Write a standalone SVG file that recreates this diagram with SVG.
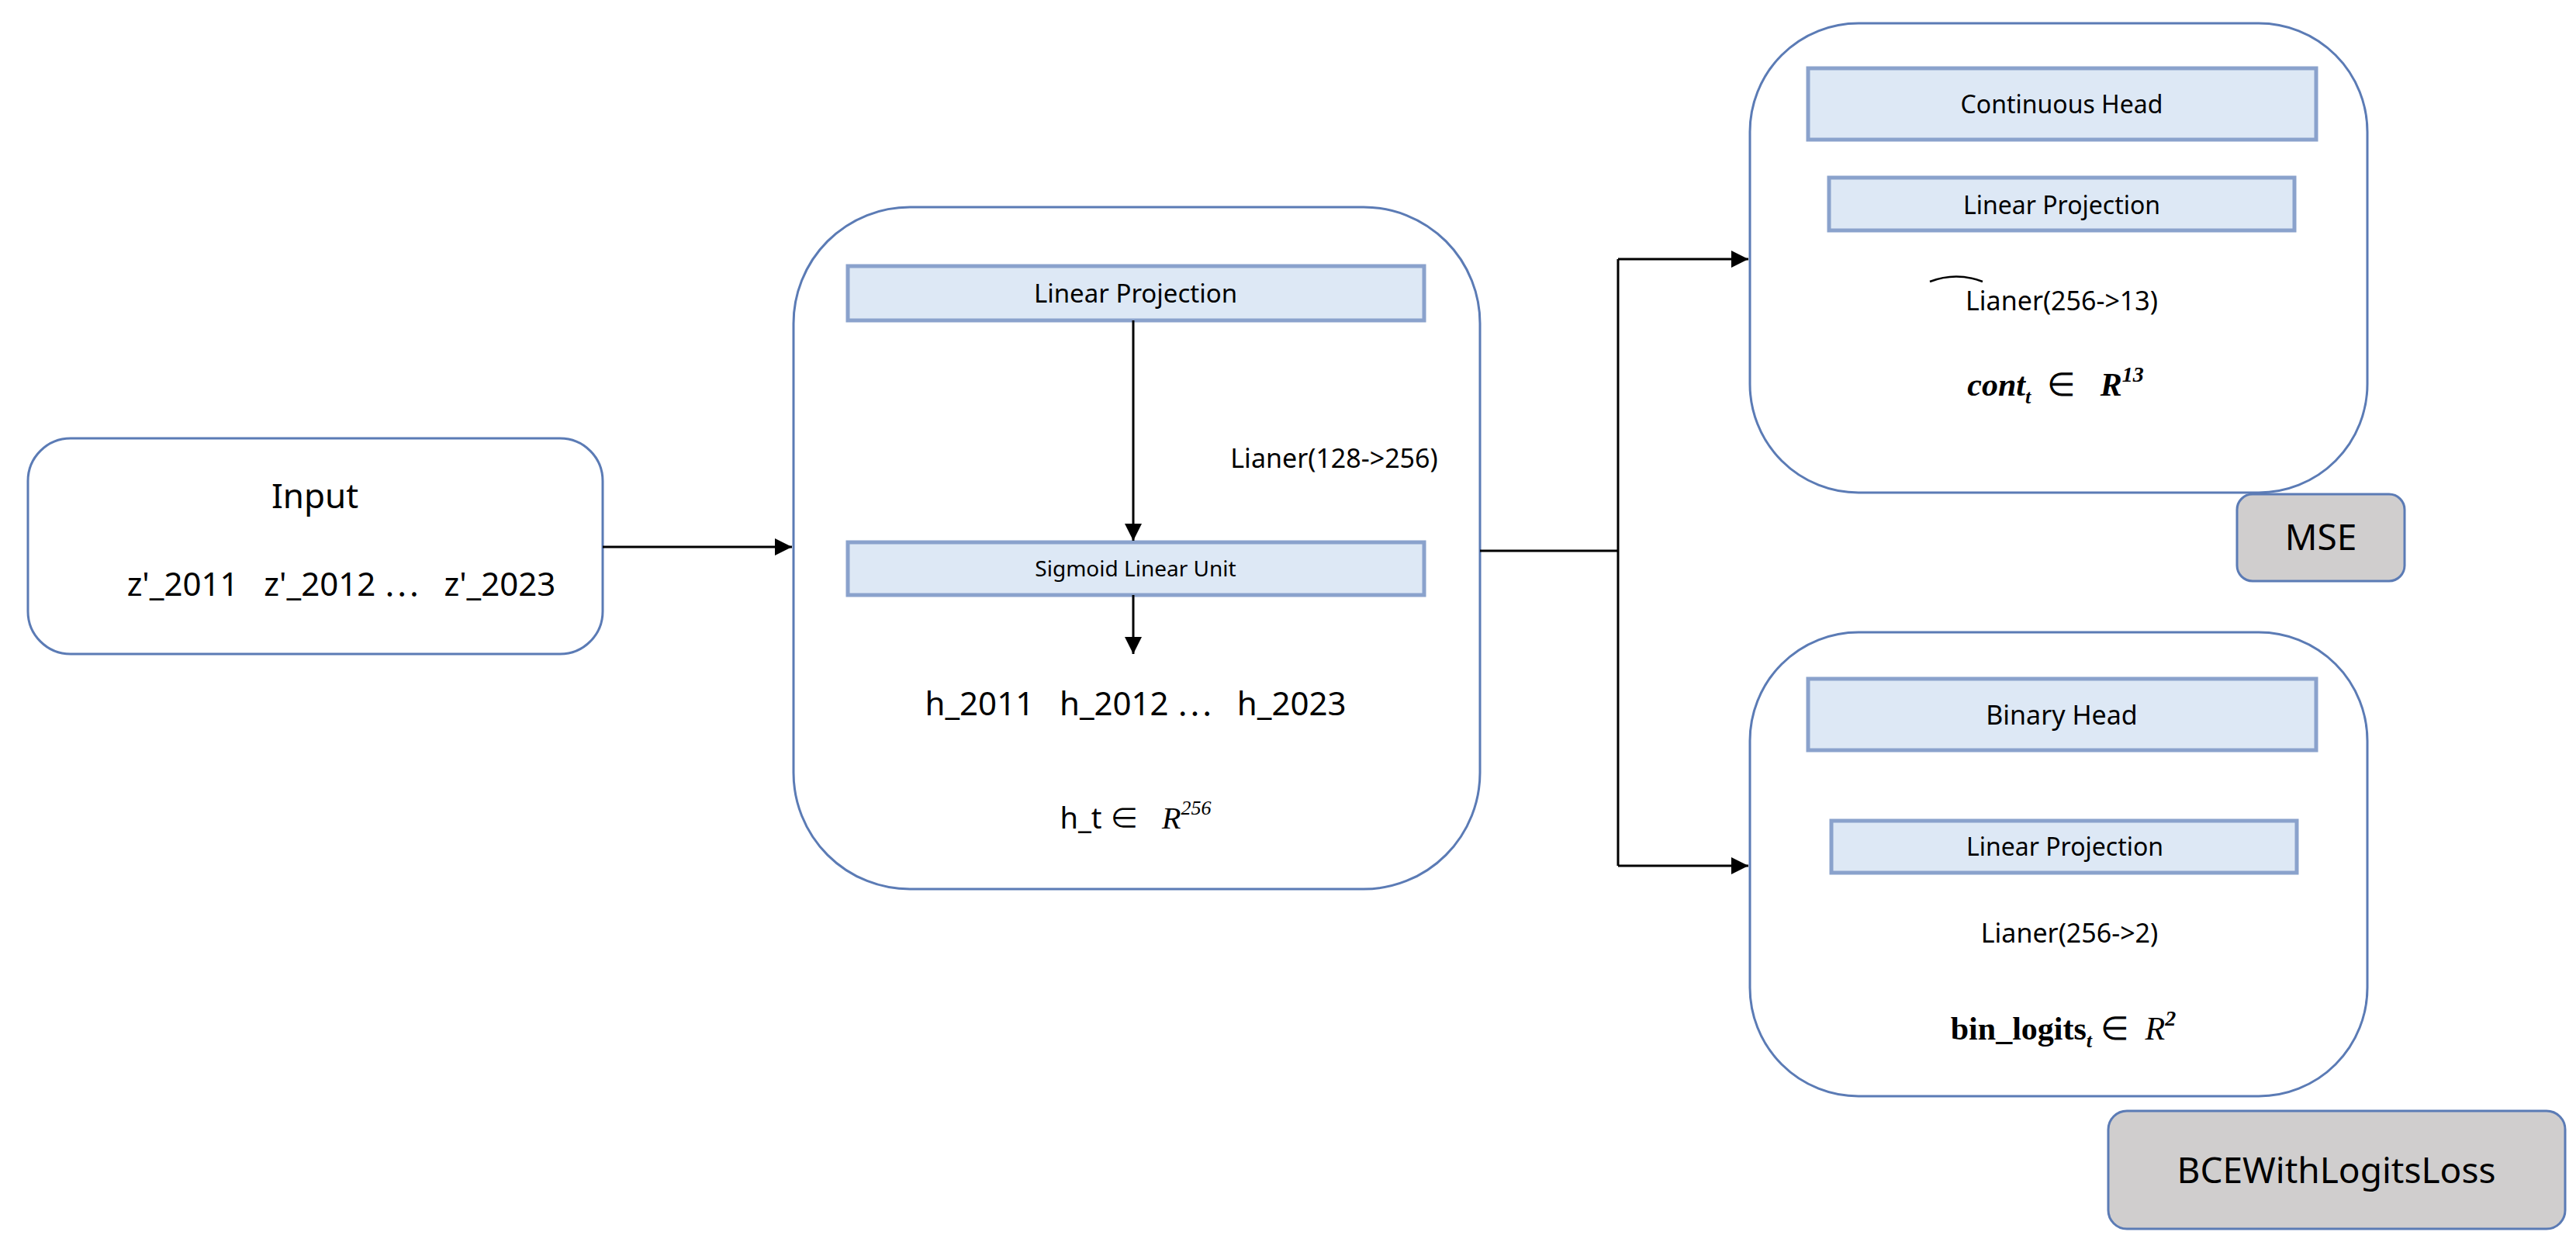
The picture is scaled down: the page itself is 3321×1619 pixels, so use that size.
<svg xmlns="http://www.w3.org/2000/svg" width="3321" height="1619" viewBox="0 0 3321 1619">
<style>
.node{fill:#fff;stroke:#5b7bb5;stroke-width:3}
.bar{fill:#dde8f5;stroke:#8aa2cc;stroke-width:5}
.loss{fill:#d0cece;stroke:#5b7bb5;stroke-width:3}
text{font-family:"Noto Sans","Noto Sans CJK KR",sans-serif;fill:#000;text-anchor:middle;white-space:pre}
.m{font-family:"Liberation Serif",serif}
.c{stroke:#000;stroke-width:3;fill:none}
</style>
<defs><marker id="a" viewBox="0 0 10 10" refX="10" refY="5" markerWidth="26" markerHeight="22" markerUnits="userSpaceOnUse" orient="auto"><path d="M0,0L10,5L0,10z" fill="#000"/></marker></defs>
<g id="input"><rect class="node" x="36" y="565" width="741" height="278" rx="55"/>
<text x="406" y="655" font-size="44">Input</text>
<text x="440" y="768" font-size="42" xml:space="preserve">z'_2011   z'_2012 ⋯   z'_2023</text></g>
<g id="encoder"><rect class="node" x="1023" y="267" width="885" height="879" rx="150"/>
<rect class="bar" x="1093" y="343" width="743" height="70"/>
<text x="1464" y="390" font-size="33">Linear Projection</text>
<text x="1720" y="603" font-size="34">Lianer(128-&gt;256)</text>
<rect class="bar" x="1093" y="699" width="743" height="68"/>
<text x="1464" y="743" font-size="28">Sigmoid Linear Unit</text>
<text x="1464" y="922" font-size="42" xml:space="preserve">h_2011   h_2012 ⋯   h_2023</text>
<text x="1464" y="1068" font-size="38" xml:space="preserve">h_t ∈   <tspan class="m" font-style="italic" font-size="40">R</tspan><tspan class="m" font-style="italic" font-size="26" dy="-18">256</tspan></text></g>
<g id="cont"><rect class="node" x="2256" y="30" width="796" height="605" rx="140"/>
<rect class="bar" x="2331" y="88" width="655" height="92"/>
<text x="2658" y="146" font-size="32">Continuous Head</text>
<rect class="bar" x="2358" y="229" width="600" height="68"/>
<text x="2658" y="276" font-size="32">Linear Projection</text>
<text x="2658" y="400" font-size="34">Lianer(256-&gt;13)</text>
<path d="M2488,363 Q2522,350 2556,363" fill="none" stroke="#000" stroke-width="2.5"/>
<text x="2650" y="510" font-size="42" class="m" font-weight="bold" font-style="italic" xml:space="preserve">cont<tspan font-size="26" dy="10">t</tspan><tspan dy="-10" font-style="normal" font-weight="normal">  ∈   </tspan><tspan>R</tspan><tspan font-size="28" dy="-18">13</tspan></text></g>
<g id="binary"><rect class="node" x="2256" y="815" width="796" height="598" rx="140"/>
<rect class="bar" x="2331" y="875" width="655" height="92"/>
<text x="2658" y="934" font-size="34">Binary Head</text>
<rect class="bar" x="2361" y="1058" width="600" height="67"/>
<text x="2662" y="1103" font-size="32">Linear Projection</text>
<text x="2668" y="1215" font-size="34">Lianer(256-&gt;2)</text>
<text x="2660" y="1340" font-size="42" class="m" font-weight="bold" xml:space="preserve">bin_logits<tspan font-style="italic" font-size="26" dy="10">t</tspan><tspan dy="-10" font-weight="normal"> ∈  </tspan><tspan font-style="italic" font-weight="normal">R</tspan><tspan font-style="italic" font-size="28" dy="-18">2</tspan></text></g>
<g id="mse"><rect class="loss" x="2884" y="637" width="216" height="112" rx="20"/>
<text x="2992" y="709" font-size="46">MSE</text></g>
<g id="bce"><rect class="loss" x="2718" y="1432" width="589" height="152" rx="24"/>
<text x="3012" y="1525" font-size="46">BCEWithLogitsLoss</text></g>
<g id="connectors">
<line class="c" x1="777" y1="705" x2="1021" y2="705" marker-end="url(#a)"/>
<line class="c" x1="1461" y1="413" x2="1461" y2="697" stroke-width="2" marker-end="url(#a)"/>
<line class="c" x1="1461" y1="767" x2="1461" y2="843" stroke-width="2" marker-end="url(#a)"/>
<path class="c" d="M1908,710 H2086"/>
<path class="c" d="M2086,334 V1116" stroke-width="2"/>
<line class="c" x1="2086" y1="334" x2="2254" y2="334" stroke-width="2" marker-end="url(#a)"/>
<line class="c" x1="2086" y1="1116" x2="2254" y2="1116" stroke-width="2" marker-end="url(#a)"/>
</g>
</svg>
